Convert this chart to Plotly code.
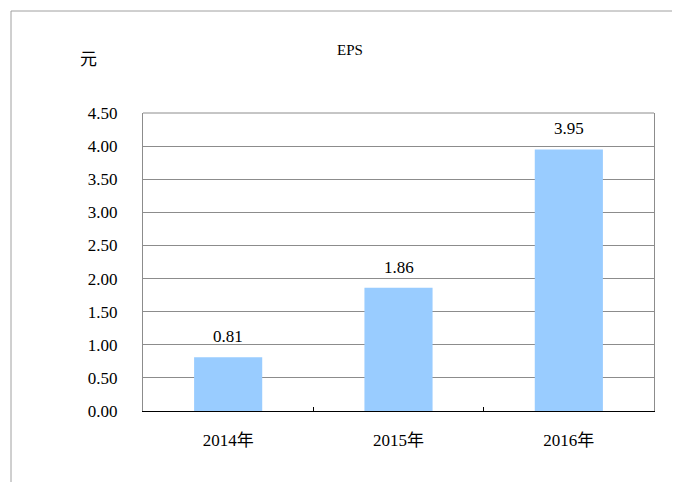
import plotly.graph_objects as go

categories = ["2014年", "2015年", "2016年"]
eps_values = [0.81, 1.86, 3.95]
value_labels = ["0.81", "1.86", "3.95"]
y_ticks = [0, 0.5, 1, 1.5, 2, 2.5, 3, 3.5, 4, 4.5]
y_tick_labels = ["0.00", "0.50", "1.00", "1.50", "2.00", "2.50", "3.00", "3.50", "4.00", "4.50"]

FONT = "Liberation Serif, Noto Sans CJK TC, serif"

fig = go.Figure()
fig.add_trace(go.Bar(
    x=categories, y=eps_values, width=0.4,
    marker=dict(color="#99CCFF", line=dict(width=0)),
))

# page body has an 8px offset; figure coordinates are window coords minus 8
OFF = 8
W, H = 672, 474
L, T = 143 - OFF, 113 - OFF
R, B = W - (654 - OFF), H - (411 - OFF)
pw, ph = W - L - R, H - T - B

def px_x(x):
    return (x - OFF - L) / pw

def px_y(y):
    return (H - B - (y - OFF)) / ph

annotations = [
    dict(text=lab, x=c, y=v, xref="x", yref="y", xanchor="center", yanchor="bottom", yshift=9,
         showarrow=False, font=dict(family=FONT, size=17, color="black"))
    for c, v, lab in zip(categories, eps_values, value_labels)
]
annotations += [
    dict(text="EPS", xref="paper", yref="paper", x=px_x(350), y=px_y(50),
         xanchor="center", yanchor="middle",
         showarrow=False, font=dict(family=FONT, size=15, color="black")),
    dict(text="元", xref="paper", yref="paper", x=px_x(88), y=px_y(60),
         xanchor="center", yanchor="middle",
         showarrow=False, font=dict(family=FONT, size=17, color="black")),
]

fig.update_layout(
    width=W, height=H,
    margin=dict(l=L, r=R, t=T, b=B, pad=0),
    paper_bgcolor="white", plot_bgcolor="white",
    showlegend=False,
    font=dict(family=FONT, size=17, color="black"),
    xaxis=dict(
        type="category", showgrid=False, showline=True, linecolor="black", linewidth=1,
        ticks="inside", tickson="boundaries", ticklen=4, tickcolor="black",
        ticklabelstandoff=14, tickfont=dict(family=FONT, size=17, color="black"),
        zeroline=False,
    ),
    yaxis=dict(
        range=[0, 4.5], tickvals=y_ticks, ticktext=y_tick_labels,
        showgrid=True, gridcolor="#8c8c8c", gridwidth=1,
        showline=True, linecolor="#8c8c8c", linewidth=1, mirror=True,
        ticks="", ticklabelstandoff=21,
        tickfont=dict(family=FONT, size=17, color="black"),
        zeroline=False,
    ),
    shapes=[
        dict(type="line", xref="paper", yref="paper", x0=0, x1=1, y0=1, y1=1,
             line=dict(color="#8c8c8c", width=1)),
        dict(type="line", xref="paper", yref="paper", x0=px_x(11), x1=px_x(690), y0=px_y(11), y1=px_y(11),
             line=dict(color="#a0a0a0", width=1)),
        dict(type="line", xref="paper", yref="paper", x0=px_x(11), x1=px_x(11), y0=px_y(11), y1=px_y(490),
             line=dict(color="#a0a0a0", width=1)),
    ],
    annotations=annotations,
)

fig.write_html("out.html")
